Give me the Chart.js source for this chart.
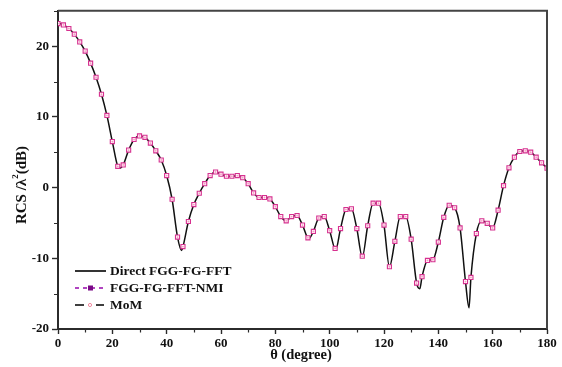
<!DOCTYPE html>
<html>
<head>
<meta charset="utf-8">
<script src="https://cdn.jsdelivr.net/npm/chart.js@4/dist/chart.umd.min.js"></script>
<style>
html,body{margin:0;padding:0;background:#fff;}
#wrap{width:562px;height:367px;position:relative;}
</style>
</head>
<body>
<div id="wrap"><canvas id="c" width="562" height="367"></canvas></div>
<script>
// ---- data ----
const angles = [0,2,4,6,8,10,12,14,16,18,20,22,24,26,28,30,32,34,36,38,40,42,44,46,48,50,52,54,56,58,60,62,64,66,68,70,72,74,76,78,80,82,84,86,88,90,92,94,96,98,100,102,104,106,108,110,112,114,116,118,120,122,124,126,128,130,132,134,136,138,140,142,144,146,148,150,152,154,156,158,160,162,164,166,168,170,172,174,176,178,180];
const nmiValues = [23.2,23.0,22.5,21.7,20.6,19.3,17.6,15.6,13.2,10.2,6.5,3.0,3.2,5.3,6.8,7.3,7.1,6.3,5.2,3.9,1.7,-1.65,-7.0,-8.35,-4.8,-2.4,-0.8,0.55,1.7,2.2,1.9,1.6,1.6,1.7,1.4,0.55,-0.75,-1.4,-1.4,-1.6,-2.7,-4.1,-4.7,-4.1,-3.95,-5.3,-7.1,-6.2,-4.3,-4.1,-6.1,-8.6,-5.8,-3.1,-3.0,-5.8,-9.7,-5.4,-2.2,-2.2,-5.3,-11.2,-7.6,-4.1,-4.1,-7.3,-13.5,-12.6,-10.3,-10.2,-7.7,-4.2,-2.5,-2.85,-5.7,-13.3,-12.7,-6.5,-4.7,-5.05,-5.7,-3.2,0.27,2.8,4.3,5.1,5.2,5.0,4.3,3.5,2.75];
const momValues = [23.2,23.0,22.5,21.7,20.6,19.3,17.6,15.6,13.2,10.2,6.5,3.0,3.2,5.3,6.8,7.3,7.1,6.3,5.2,3.9,1.7,-1.65,-7.0,-8.35,-4.8,-2.4,-0.8,0.55,1.7,2.2,1.9,1.6,1.6,1.7,1.4,0.55,-0.75,-1.4,-1.4,-1.6,-2.7,-4.1,-4.7,-4.1,-3.95,-5.3,-7.1,-6.2,-4.3,-4.1,-6.1,-8.6,-5.8,-3.1,-3.0,-5.8,-9.7,-5.4,-2.2,-2.2,-5.3,-11.2,-7.6,-4.1,-4.1,-7.3,-13.5,-12.6,-10.3,-10.2,-7.7,-4.2,-2.5,-2.85,-5.7,-13.3,-12.7,-6.5,-4.7,-5.05,-5.7,-3.2,0.27,2.8,4.3,5.1,5.2,5.0,4.3,3.5,2.75];
// solid curve: same samples plus the deeper minima seen between markers
const directAngles = [0,2,4,6,8,10,12,14,16,18,20,22,22.8,24,26,28,30,32,34,36,38,40,42,44,45.5,46,48,50,52,54,56,58,60,62,64,66,68,70,72,74,76,78,80,82,84,86,88,90,92.3,94,96,98,100,102.2,104,106,108,110,112,114,116,118,120,122,124,126,128,130,132,133.2,134,136,138,140,142,144,146,148,150,151.3,152,154,156,158,160,162,164,166,168,170,172,174,176,178,180];
const directValues = [23.3,23.0,22.5,21.7,20.6,19.3,17.6,15.6,13.2,10.2,6.5,3.0,2.75,3.2,5.3,6.8,7.3,7.1,6.3,5.2,3.9,1.7,-1.65,-7.0,-8.9,-8.35,-4.8,-2.4,-0.8,0.55,1.7,2.2,1.9,1.6,1.6,1.7,1.4,0.55,-0.75,-1.4,-1.4,-1.6,-2.7,-4.1,-4.7,-4.1,-3.95,-5.3,-7.25,-6.2,-4.3,-4.1,-6.1,-8.8,-5.8,-3.1,-3.0,-5.8,-9.8,-5.4,-2.2,-2.2,-5.3,-11.2,-7.6,-4.1,-4.1,-7.3,-13.5,-14.3,-12.6,-10.3,-10.2,-7.7,-4.2,-2.5,-2.85,-5.7,-13.3,-17.0,-12.7,-6.5,-4.7,-5.05,-5.7,-3.2,0.27,2.8,4.3,5.1,5.2,5.0,4.3,3.5,2.75];
const xTicks = [0,20,40,60,80,100,120,140,160,180];
const yTicks = [-20,-10,0,10,20];
const seriesNames = ['Direct FGG-FG-FFT','FGG-FG-FFT-NMI','MoM'];
const xTitle = 'θ (degree)';

const pts = (xs, ys) => xs.map((x, i) => ({x: x, y: ys[i]}));
const FONT = '"Liberation Serif", "Times New Roman", serif';
const AXC = '#2b2b2b';

const extras = {
  id: 'extras',
  afterDraw(chart) {
    const ctx = chart.ctx, a = chart.chartArea;
    const xs = chart.scales.x, ys = chart.scales.y;
    ctx.save();
    // frame top/right
    ctx.strokeStyle = '#444'; ctx.lineWidth = 2;
    ctx.beginPath();
    ctx.moveTo(a.left, a.top); ctx.lineTo(a.right, a.top); ctx.lineTo(a.right, a.bottom);
    ctx.stroke();
    // minor ticks
    ctx.strokeStyle = AXC; ctx.lineWidth = 1.2;
    ctx.beginPath();
    for (let v = 10; v < 180; v += 20) {
      const px = Math.round(xs.getPixelForValue(v)) + 0.5;
      ctx.moveTo(px, a.bottom); ctx.lineTo(px, a.bottom + 3.5);
    }
    for (let v = -15; v <= 25; v += 10) {
      const py = Math.round(ys.getPixelForValue(v)) + 0.5;
      ctx.moveTo(a.left, py); ctx.lineTo(a.left - 4, py);
    }
    ctx.stroke();
    // axis titles
    ctx.fillStyle = '#111';
    ctx.font = 'bold 14.5px ' + FONT;
    ctx.textAlign = 'center'; ctx.textBaseline = 'middle';
    ctx.fillText(xTitle, 301, 355);
    // y title rotated
    ctx.save();
    ctx.translate(21, 185);
    ctx.rotate(-Math.PI / 2);
    ctx.textAlign = 'left';
    const f1 = 'bold 15px ' + FONT, f2 = 'bold 9px ' + FONT;
    ctx.font = f1; const w1 = ctx.measureText('RCS /λ').width;
    ctx.font = f2; const w2 = ctx.measureText('2').width;
    ctx.font = f1; const w3 = ctx.measureText('(dB)').width;
    let sx = -(w1 + w2 + w3) / 2;
    ctx.font = f1; ctx.fillText('RCS /λ', sx, 1);
    ctx.font = f2; ctx.fillText('2', sx + w1, -5);
    ctx.font = f1; ctx.fillText('(dB)', sx + w1 + w2, 1);
    ctx.restore();
    // legend
    const rows = [271, 288, 305];
    const lx0 = 75, lx1 = 106;
    ctx.font = 'bold 13.5px ' + FONT;
    ctx.textAlign = 'left'; ctx.textBaseline = 'middle';
    ctx.strokeStyle = '#000'; ctx.lineWidth = 1.6;
    ctx.beginPath(); ctx.moveTo(lx0, rows[0]); ctx.lineTo(lx1, rows[0]); ctx.stroke();
    ctx.strokeStyle = '#b044c0'; ctx.lineWidth = 1.8;
    ctx.setLineDash([4, 4]);
    ctx.beginPath(); ctx.moveTo(lx0, rows[1]); ctx.lineTo(lx1, rows[1]); ctx.stroke();
    ctx.setLineDash([]);
    ctx.fillStyle = '#fff'; ctx.fillRect(87, rows[1] - 3, 6, 6);
    ctx.fillStyle = '#7a0a86'; ctx.fillRect(88, rows[1] - 2.5, 5, 5);
    ctx.strokeStyle = '#000'; ctx.lineWidth = 1.6;
    ctx.beginPath(); ctx.moveTo(lx0, rows[2]); ctx.lineTo(lx0 + 9, rows[2]);
    ctx.moveTo(lx1 - 10, rows[2]); ctx.lineTo(lx1 - 2, rows[2]); ctx.stroke();
    ctx.strokeStyle = '#f08aa0'; ctx.lineWidth = 1;
    ctx.beginPath(); ctx.arc(90, rows[2], 1.6, 0, Math.PI * 2); ctx.stroke();
    ctx.fillStyle = '#111';
    seriesNames.forEach((n, i) => ctx.fillText(n, 110, rows[i] + 1));
    ctx.restore();
  }
};

new Chart(document.getElementById('c'), {
  type: 'line',
  data: {
    datasets: [
      {
        label: seriesNames[0],
        data: pts(directAngles, directValues),
        borderColor: '#111', borderWidth: 1.5,
        pointRadius: 0, cubicInterpolationMode: 'monotone',
        fill: false, order: 3
      },
      {
        label: seriesNames[1],
        data: pts(angles, nmiValues),
        showLine: false,
        pointStyle: 'rect', pointRadius: 2.9,
        pointBorderColor: '#d6308f', pointBackgroundColor: '#fff6fb', pointBorderWidth: 1.1,
        order: 2
      },
      {
        label: seriesNames[2],
        data: pts(angles, momValues),
        showLine: false,
        pointStyle: 'circle', pointRadius: 0.9,
        pointBorderColor: '#f48fb0', pointBackgroundColor: '#f5a0c0', pointBorderWidth: 0,
        order: 1
      }
    ]
  },
  options: {
    responsive: false,
    animation: false,
    events: [],
    layout: { padding: { top: 3, right: 15, left: 0, bottom: 0 } },
    plugins: { legend: { display: false }, tooltip: { enabled: false } },
    scales: {
      x: {
        type: 'linear', min: 0, max: 180,
        afterFit: s => { s.height = 38; },
        afterBuildTicks: s => { s.ticks = xTicks.map(v => ({value: v})); },
        ticks: { font: { family: FONT, size: 13, weight: 'bold' }, color: '#111', padding: 2, maxRotation: 0 },
        grid: { display: true, drawOnChartArea: false, drawTicks: true, tickLength: 5, tickColor: AXC, tickWidth: 1.4 },
        border: { display: true, color: AXC, width: 2 }
      },
      y: {
        type: 'linear', min: -20, max: 25,
        afterFit: s => { s.width = 58; },
        afterBuildTicks: s => { s.ticks = yTicks.map(v => ({value: v})); },
        ticks: { font: { family: FONT, size: 13, weight: 'bold' }, color: '#111', padding: 3 },
        grid: { display: true, drawOnChartArea: false, drawTicks: true, tickLength: 6, tickColor: AXC, tickWidth: 1.4 },
        border: { display: true, color: AXC, width: 2 }
      }
    }
  },
  plugins: [extras]
});
</script>
</body>
</html>
